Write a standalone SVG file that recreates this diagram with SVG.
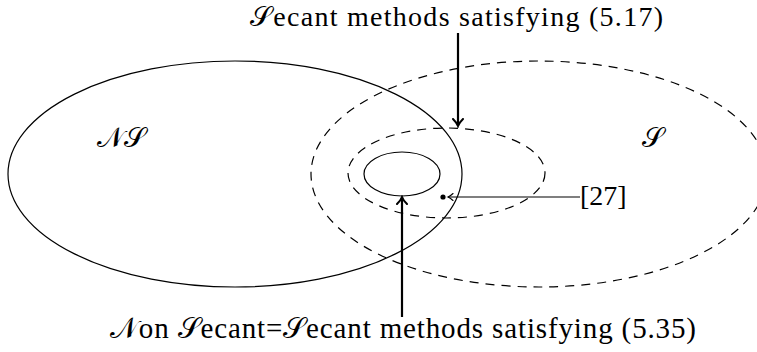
<svg xmlns="http://www.w3.org/2000/svg" width="757" height="352" viewBox="0 0 757 352">
<defs>
<marker id="tipThick" viewBox="-8 -6 10 12" refX="0" refY="0" markerWidth="10" markerHeight="12" markerUnits="userSpaceOnUse" orient="auto">
<path d="M -7 -5 Q -3 -1 0 0 Q -3 1 -7 5" fill="none" stroke="#000" stroke-width="2" stroke-linecap="round"/>
</marker>
<marker id="tipThin" viewBox="-7 -5 9 10" refX="0" refY="0" markerWidth="9" markerHeight="10" markerUnits="userSpaceOnUse" orient="auto">
<path d="M -5 -3.5 Q -2 -0.7 0 0 Q -2 0.7 -5 3.5" fill="none" stroke="#000" stroke-width="1.1" stroke-linecap="round"/>
</marker>
</defs>
<g id="node-NS">
<ellipse cx="235" cy="174" rx="227" ry="113" fill="none" stroke="#000" stroke-width="1.2"/>
<text x="97" y="147" font-size="28" font-family="Liberation Serif">𝒩𝒮</text>
</g>
<g id="node-S">
<ellipse cx="539" cy="174" rx="228" ry="113" fill="none" stroke="#000" stroke-width="1.2" stroke-dasharray="9 7"/>
<text x="642" y="147" font-size="28" font-family="Liberation Serif">𝒮</text>
</g>
<g id="node-secant517">
<ellipse cx="446.5" cy="173" rx="98.5" ry="45" fill="none" stroke="#000" stroke-width="1.2" stroke-dasharray="9 7"/>
</g>
<g id="node-nonsecant">
<ellipse cx="402" cy="174" rx="38" ry="22" fill="none" stroke="#000" stroke-width="1.2"/>
</g>
<g id="node-ref27">
<circle cx="443" cy="197" r="2.6" fill="#000"/>
<text x="580" y="205" font-size="28" font-family="Liberation Serif">[27]</text>
</g>
<g id="label-top">
<text x="456.5" y="26" font-size="28" font-family="Liberation Serif" text-anchor="middle" textLength="413" lengthAdjust="spacing">𝒮ecant methods satisfying (5.17)</text>
</g>
<g id="label-bottom">
<text x="403" y="338" font-size="29" font-family="Liberation Serif" text-anchor="middle" textLength="586" lengthAdjust="spacing">𝒩on 𝒮ecant=𝒮ecant methods satisfying (5.35)</text>
</g>
<g id="connectors" fill="none" stroke="#000">
<line x1="458" y1="33" x2="458" y2="126" stroke-width="2.2" marker-end="url(#tipThick)"/>
<line x1="402" y1="317" x2="402" y2="197" stroke-width="2.2" marker-end="url(#tipThick)"/>
<line x1="580" y1="197" x2="448" y2="197" stroke-width="1.1" marker-end="url(#tipThin)"/>
</g>
</svg>
